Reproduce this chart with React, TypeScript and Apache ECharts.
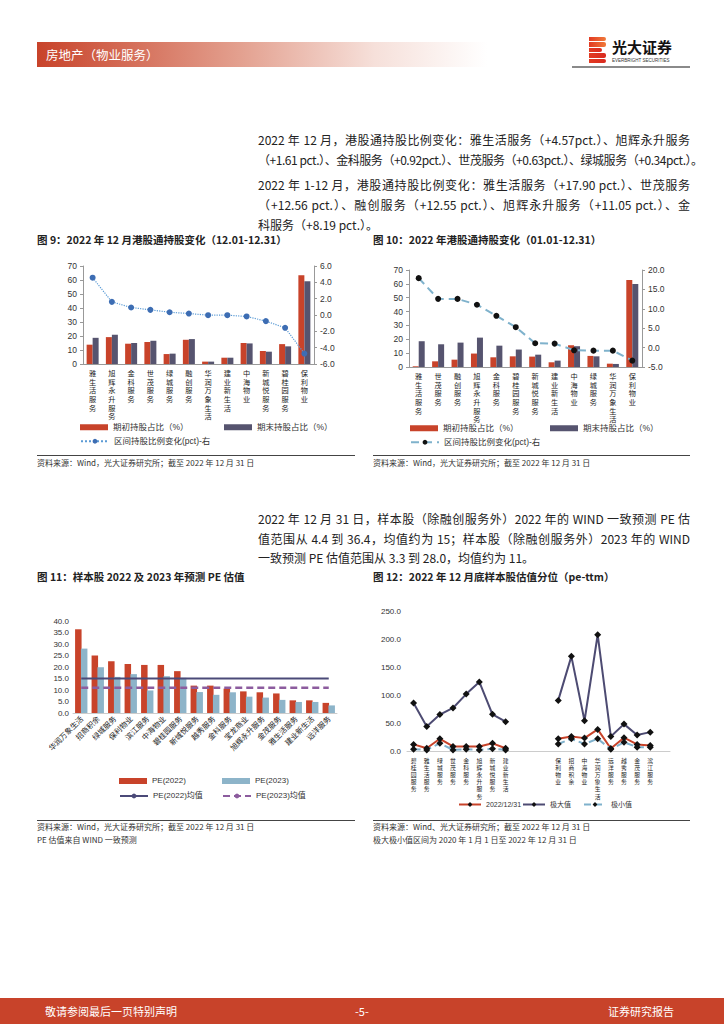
import React, { useEffect, useRef } from "react";
import * as echarts from "echarts";

const FONT = "'Liberation Sans', 'Noto Sans CJK SC', sans-serif";
const CJK = "'Noto Sans CJK SC', 'Liberation Sans', sans-serif";
const RED = "#C8432A";
const PURPLE = "#56546F";
const LBLUE = "#8DB4C9";

// ---- Chart 9: Dec 2022 Southbound holding change ----
const c9Cats = ["雅生活服务", "旭辉永升服务", "金科服务", "世茂服务", "绿城服务", "融创服务", "华润万象生活", "建业新生活", "中海物业", "新城悦服务", "碧桂园服务", "保利物业"];
const c9Start = [13.8, 19.2, 14.5, 15.7, 7.1, 17.3, 1.7, 4.5, 15.0, 9.3, 14.2, 63.4];
const c9End = [18.7, 20.9, 15.0, 16.6, 7.4, 17.8, 1.7, 4.5, 14.7, 8.8, 12.6, 59.1];
const c9Chg = [4.57, 1.61, 0.92, 0.63, 0.34, 0.18, -0.02, -0.02, -0.18, -0.75, -1.57, -4.72];

// ---- Chart 10: 2022 Southbound holding change ----
const c10Cats = ["雅生活服务", "世茂服务", "融创服务", "旭辉永升服务", "金科服务", "碧桂园服务", "新城悦服务", "建业新生活", "中海物业", "绿城服务", "华润万象生活", "保利物业"];
const c10Start = [0.5, 4.1, 5.3, 9.7, 7.0, 7.7, 7.5, 3.4, 15.7, 8.0, 2.4, 62.8];
const c10End = [18.6, 16.4, 17.6, 21.2, 15.4, 12.6, 8.9, 4.6, 15.0, 7.7, 2.2, 59.9];
const c10Chg = [17.9, 12.56, 12.55, 11.05, 8.19, 5.26, 1.12, 1.03, -0.69, -0.78, -0.78, -3.36];

// ---- Chart 11: PE 2022 / 2023 ----
const c11Cats = ["华润万象生活", "招商积余", "绿城服务", "保利物业", "滨江服务", "中海物业", "碧桂园服务", "新城悦服务", "越秀服务", "金科服务", "宝龙商业", "旭辉永升服务", "金茂服务", "雅生活服务", "建业新生活", "远洋服务"];
const c11Pe22 = [36.4, 25.0, 22.5, 21.3, 20.9, 20.9, 18.2, 11.9, 11.9, 10.6, 9.4, 9.0, 8.5, 5.5, 5.5, 4.4];
const c11Pe23 = [28.0, 19.9, 15.7, 16.9, 9.8, 16.0, 15.3, 9.1, 7.9, 9.0, 7.1, 6.7, 5.7, 4.8, 4.8, 3.3];
const c11Avg22 = 15;
const c11Avg23 = 11;

// ---- Chart 12: PE-ttm percentile ----
const c12Cats = ["碧桂园服务", "雅生活服务", "绿城服务", "世茂服务", "金科服务", "旭辉永升服务", "新城悦服务", "建业新生活", " ", "  ", "   ", "保利物业", "招商积余", "中海物业", "华润万象生活", "远洋服务", "越秀服务", "金茂服务", "滨江服务", "    "];
const c12Now = [11.8, 5.0, 21.8, 8.1, 8.0, 8.0, 13.7, 5.0, null, null, null, 21.8, 26.0, 23.0, 38.6, 4.4, 23.7, 11.8, 10.0, null];
const c12Max = [85.6, 43.9, 65.0, 76.9, 101.6, 123.4, 65.5, 52.4, null, null, null, 90.4, 169.0, 54.0, 207.6, 26.0, 48.0, 28.7, 33.7, null];
const c12Min = [3.0, 2.0, 13.7, 2.0, 3.0, 2.0, 4.0, 2.0, null, null, null, 12.5, 21.8, 12.5, 21.8, 3.0, 15.6, 6.9, 6.9, null];

const vert = (v: string) => v.split("").join("\n");

function Chart({ option, style }: { option: any; style: React.CSSProperties }) {
  const ref = useRef<HTMLDivElement>(null);
  useEffect(() => {
    const c = echarts.init(ref.current!, null, { renderer: "svg" });
    c.setOption(option);
    return () => c.dispose();
  }, []);
  return <div ref={ref} style={{ position: "absolute", ...style }} />;
}

function T({ x, y, text, size = 12, bold = false, color = "#222", width, justify = false, font = CJK, ls = 0 }: any) {
  const lh = Math.round(size * 1.3);
  return (
    <div
      style={{
        position: "absolute",
        left: x,
        top: y - lh / 2,
        lineHeight: lh + "px",
        height: lh,
        fontSize: size,
        fontWeight: bold ? 700 : 400,
        color,
        fontFamily: font,
        whiteSpace: "nowrap",
        width: width,
        letterSpacing: ls,
        textAlign: justify ? "justify" : "left",
        textAlignLast: justify ? "justify" : "auto",
      } as React.CSSProperties}
    >
      {text}
    </div>
  );
}

const legendBase = { itemWidth: 28, itemHeight: 6, textStyle: { fontSize: 8.5, color: "#333", fontFamily: FONT }, itemGap: 4 };

function holdOption(cats: string[], s: number[], e: number[], chg: number[], rmin: number, rmax: number, rint: number, grid: any, leg: any, lineCfg: any) {
  return {
    animation: false,
    textStyle: { fontFamily: FONT },
    grid,
    legend: [
      { ...legendBase, data: [{ name: "期初持股占比（%）", icon: "rect" }], left: leg.x1, top: leg.y1 },
      { ...legendBase, data: [{ name: "期末持股占比（%）", icon: "rect" }], left: leg.x2, top: leg.y1 },
      { ...legendBase, data: ["区间持股比例变化(pct)-右"], left: leg.x1, top: leg.y2 },
    ],
    xAxis: {
      type: "category",
      data: cats,
      axisLine: { lineStyle: { color: "#999" } },
      axisTick: { lineStyle: { color: "#999" }, length: 3 },
      axisLabel: { interval: 0, fontSize: 7.2, lineHeight: 8.7, color: "#222", formatter: vert, margin: 5, fontFamily: FONT },
    },
    yAxis: [
      {
        type: "value", min: 0, max: 70, interval: 10,
        axisLine: { show: true, lineStyle: { color: "#999" } },
        axisTick: { show: true, length: 3, lineStyle: { color: "#999" } },
        splitLine: { show: false },
        axisLabel: { fontSize: 8.5, color: "#333", margin: 6 },
      },
      {
        type: "value", min: rmin, max: rmax, interval: rint,
        axisLine: { show: true, lineStyle: { color: "#999" } },
        axisTick: { show: true, length: 3, lineStyle: { color: "#999" } },
        splitLine: { show: false },
        axisLabel: { fontSize: 8.5, color: "#333", margin: 6, formatter: (v: number) => v.toFixed(1) },
      },
    ],
    series: [
      { name: "期初持股占比（%）", type: "bar", data: s, barWidth: 6, barGap: "0%", itemStyle: { color: RED } },
      { name: "期末持股占比（%）", type: "bar", data: e, barWidth: 6, itemStyle: { color: PURPLE } },
      {
        name: "区间持股比例变化(pct)-右", type: "line", yAxisIndex: 1, data: chg,
        symbol: "circle", symbolSize: 6,
        itemStyle: { color: lineCfg.dot },
        lineStyle: { color: lineCfg.line, type: lineCfg.type, width: lineCfg.width },
      },
    ],
  };
}

const opt9 = holdOption(c9Cats, c9Start, c9End, c9Chg, -6, 6, 2,
  { left: 53, right: 46, top: 16, bottom: 86 },
  { x1: 45, x2: 189, y1: 168, y2: 182 },
  { dot: "#3D6DB3", line: "#5B9BD5", type: "dotted", width: 1.2 });

const opt10 = holdOption(c10Cats, c10Start, c10End, c10Chg, -5, 20, 5,
  { left: 44, right: 53, top: 15, bottom: 83 },
  { x1: 40, x2: 180, y1: 164, y2: 178 },
  { dot: "#111", line: "#7FB2CC", type: [8, 5], width: 2 });

const leg11 = { ...legendBase, textStyle: { fontSize: 8, color: "#333", fontFamily: FONT } };
const opt11 = {
  animation: false,
  textStyle: { fontFamily: FONT },
  grid: { left: 43, right: 23, top: 26, bottom: 107 },
  legend: [
    { ...leg11, data: [{ name: "PE(2022)", icon: "rect" }], left: 84, top: 177 },
    { ...leg11, data: [{ name: "PE(2023)", icon: "rect" }], left: 187, top: 177 },
    { ...leg11, data: ["PE(2022)均值"], left: 84, top: 192 },
    { ...leg11, data: ["PE(2023)均值"], left: 187, top: 192 },
  ],
  xAxis: {
    type: "category",
    data: c11Cats,
    axisLine: { lineStyle: { color: "#ccc" } },
    axisTick: { show: false },
    axisLabel: { interval: 0, rotate: 45, fontSize: 7.5, color: "#222", margin: 4, fontFamily: CJK },
  },
  yAxis: {
    type: "value", min: 0, max: 40, interval: 5,
    axisLine: { show: false }, axisTick: { show: false }, splitLine: { show: false },
    axisLabel: { fontSize: 8, color: "#333", margin: 4, formatter: (v: number) => v.toFixed(1) },
  },
  series: [
    { name: "PE(2022)", type: "bar", data: c11Pe22, barWidth: 6.5, barGap: "-10%", itemStyle: { color: RED } },
    { name: "PE(2023)", type: "bar", data: c11Pe23, barWidth: 6.5, itemStyle: { color: LBLUE } },
    { name: "PE(2022)均值", type: "line", data: c11Cats.map(() => c11Avg22), symbol: "none", lineStyle: { color: "#4B4A78", width: 2.2 }, itemStyle: { color: "#4B4A78" } },
    { name: "PE(2023)均值", type: "line", data: c11Cats.map(() => c11Avg23), symbol: "none", lineStyle: { color: "#8C5C9E", width: 2.5, type: [7, 4] }, itemStyle: { color: "#8C5C9E" } },
  ],
};

const leg12 = { itemWidth: 22, itemHeight: 6, textStyle: { fontSize: 7, color: "#333", fontFamily: FONT } };
const opt12 = {
  animation: false,
  textStyle: { fontFamily: FONT },
  grid: { left: 42, right: 25, top: 16, bottom: 66 },
  legend: [
    { ...leg12, data: ["2022/12/31"], left: 88, top: 201 },
    { ...leg12, data: ["极大值"], left: 152, top: 201 },
    { ...leg12, data: ["极小值"], left: 213, top: 201 },
  ],
  xAxis: {
    type: "category",
    data: c12Cats,
    axisLine: { lineStyle: { color: "#ccc" } },
    axisTick: { show: false },
    axisLabel: { interval: 0, fontSize: 5.8, lineHeight: 7.2, color: "#222", formatter: vert, margin: 6, fontFamily: FONT },
  },
  yAxis: {
    type: "value", min: 0, max: 250, interval: 50,
    axisLine: { show: false }, axisTick: { show: false }, splitLine: { show: false },
    axisLabel: { fontSize: 8, color: "#333", margin: 6, formatter: (v: number) => v.toFixed(1) },
  },
  series: [
    { name: "极大值", type: "line", data: c12Max, symbol: "diamond", symbolSize: 7, itemStyle: { color: "#111" }, lineStyle: { color: "#4D4B72", width: 2 } },
    { name: "2022/12/31", type: "line", data: c12Now, symbol: "diamond", symbolSize: 7, itemStyle: { color: "#111" }, lineStyle: { color: RED, width: 2 } },
    { name: "极小值", type: "line", data: c12Min, symbol: "diamond", symbolSize: 7, itemStyle: { color: "#111" }, lineStyle: { color: "#7FB1CC", width: 2, type: [7, 4] } },
  ],
};

function Logo() {
  const stripes = [0, 1, 2, 3, 4];
  return (
    <div style={{ position: "absolute", left: 589, top: 37, width: 17, height: 27 }}>
      {stripes.map((i) => (
        <div
          key={i}
          style={{
            position: "absolute",
            left: 0,
            top: i * 5.4,
            width: i === 2 ? 13 : 17,
            height: 4.4,
            background: `linear-gradient(90deg, #E23A22, ${i < 2 ? "#F07A3A" : "#D92A1F"})`,
            borderRadius: i === 0 || i === 4 ? "0 3px 3px 0" : "0 2px 2px 0",
          }}
        />
      ))}
    </div>
  );
}

export default function App() {
  const p1 = 258;
  return (
    <div style={{ position: "absolute", left: 0, top: 0, width: 724, height: 1024, background: "#fff", overflow: "hidden", fontFamily: CJK }}>
      {/* Header */}
      <div style={{ position: "absolute", left: 37, top: 42, width: 450, height: 25, background: "linear-gradient(90deg, #C8432A 0%, #E3A08F 45%, #F6E0DA 75%, #ffffff 100%)" }} />
      <T x={46} y={55} text="房地产（物业服务）" size={12.5} color="#fff" />
      <Logo />
      <T x={612} y={47} text="光大证券" size={15} bold color="#111" />
      <T x={612} y={61} text="EVERBRIGHT SECURITIES" size={4.5} color="#333" font={FONT} />
      <div style={{ position: "absolute", left: 572, top: 66, width: 118, height: 2, background: "#8a8a8a" }} />

      {/* Paragraphs */}
      <T x={p1} y={140} width={432} justify text="2022 年 12 月，港股通持股比例变化：雅生活服务（+4.57pct.）、旭辉永升服务" />
      <T x={p1} y={160} ls={-0.45} text="（+1.61 pct.）、金科服务（+0.92pct.）、世茂服务（+0.63pct.）、绿城服务（+0.34pct.）。" />
      <T x={p1} y={185} width={432} justify text="2022 年 1-12 月，港股通持股比例变化：雅生活服务（+17.90  pct.）、世茂服务" />
      <T x={p1} y={205} width={432} justify text="（+12.56 pct.）、融创服务（+12.55 pct.）、旭辉永升服务（+11.05 pct.）、金" />
      <T x={p1} y={225} text="科服务（+8.19 pct.）。" />

      {/* Chart 9 & 10 */}
      <T x={37} y={240} text="图 9：2022 年 12 月港股通持股变化（12.01-12.31）" size={10.5} bold color="#222" />
      <T x={373} y={240} text="图 10：2022 年港股通持股变化（01.01-12.31）" size={10.5} bold color="#222" />
      <Chart option={opt9} style={{ left: 30, top: 250, width: 330, height: 200 }} />
      <Chart option={opt10} style={{ left: 365, top: 255, width: 330, height: 195 }} />
      <div style={{ position: "absolute", left: 37, top: 455, width: 318, height: 1, background: "#444" }} />
      <div style={{ position: "absolute", left: 373, top: 455, width: 317, height: 1, background: "#444" }} />
      <T x={37} y={463} text="资料来源：Wind，光大证券研究所；截至 2022 年 12 月 31 日" size={8} color="#333" />
      <T x={373} y={463} text="资料来源：Wind，光大证券研究所；截至 2022 年 12 月 31 日" size={8} color="#333" />

      {/* Paragraph 3 */}
      <T x={p1} y={519} width={432} justify text="2022 年 12 月 31 日，样本股（除融创服务外）2022 年的 WIND 一致预测 PE 估" />
      <T x={p1} y={539} width={432} justify text="值范围从 4.4 到 36.4，均值约为 15；样本股（除融创服务外）2023 年的 WIND" />
      <T x={p1} y={558} text="一致预测 PE 估值范围从 3.3 到 28.0，均值约为 11。" />

      {/* Chart 11 & 12 */}
      <T x={37} y={577} text="图 11：样本股 2022 及 2023 年预测 PE 估值" size={10.5} bold color="#222" />
      <T x={373} y={577} text="图 12：2022 年 12 月底样本股估值分位（pe-ttm）" size={10.5} bold color="#222" />
      <Chart option={opt11} style={{ left: 30, top: 595, width: 330, height: 225 }} />
      <Chart option={opt12} style={{ left: 365, top: 595, width: 330, height: 222 }} />
      <div style={{ position: "absolute", left: 37, top: 820, width: 318, height: 1, background: "#444" }} />
      <div style={{ position: "absolute", left: 373, top: 820, width: 317, height: 1, background: "#444" }} />
      <T x={37} y={827} text="资料来源：Wind，光大证券研究所；截至 2022 年 12 月 31 日" size={8} color="#333" />
      <T x={37} y={840} text="PE 估值来自 WIND 一致预测" size={8} color="#333" />
      <T x={373} y={827} text="资料来源：Wind、光大证券研究所；截至 2022 年 12 月 31 日" size={8} color="#333" />
      <T x={373} y={840} text="极大极小值区间为 2020 年 1 月 1 日至 2022 年 12 月 31 日" size={8} color="#333" />

      {/* Footer */}
      <div style={{ position: "absolute", left: 0, top: 998, width: 724, height: 26, background: "#C8432A" }} />
      <T x={45} y={1011} text="敬请参阅最后一页特别声明" size={11} color="#fff" />
      <T x={355} y={1011} text="-5-" size={11} color="#fff" />
      <T x={608} y={1011} text="证券研究报告" size={11} color="#fff" />
    </div>
  );
}
